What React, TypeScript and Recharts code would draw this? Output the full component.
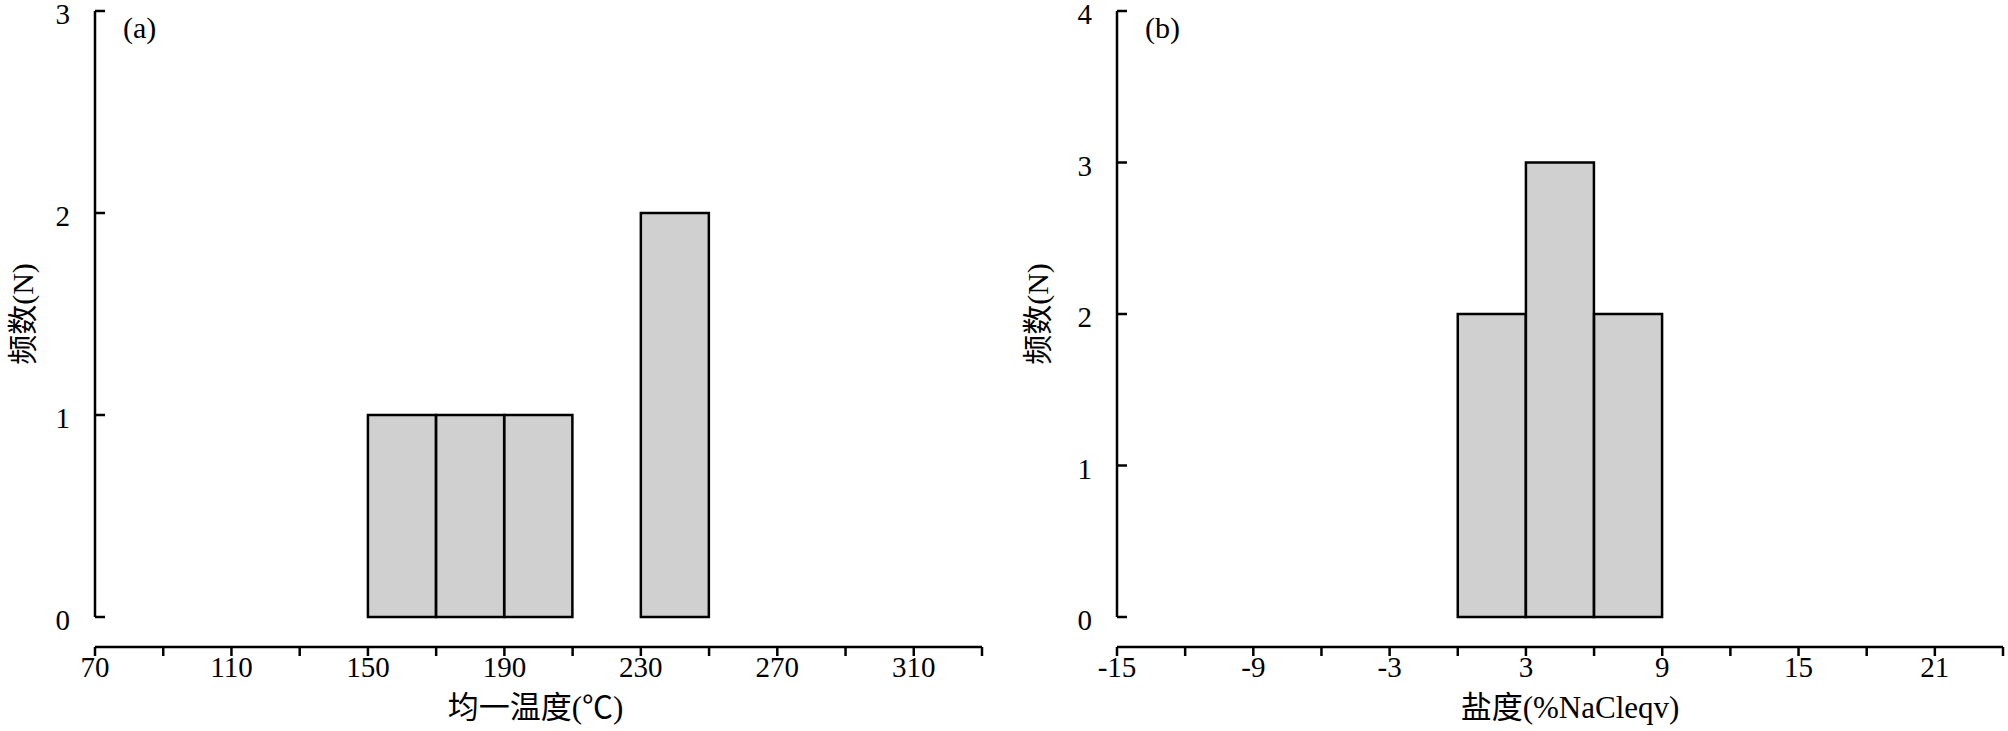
import React from 'react';
import { ComposedChart, Bar, XAxis, YAxis } from 'recharts';

// (a) homogenization temperature histogram
const tempEdges = [70, 90, 110, 130, 150, 170, 190, 210, 230, 250, 270, 290, 310, 330];
const tempLabels = [70, 110, 150, 190, 230, 270, 310];
const tempCounts = [0, 0, 0, 0, 1, 1, 1, 0, 2, 0, 0, 0, 0];
const tempYTicks = [0, 1, 2, 3];

// (b) salinity histogram
const salEdges = [-15, -12, -9, -6, -3, 0, 3, 6, 9, 12, 15, 18, 21, 24];
const salLabels = [-15, -9, -3, 3, 9, 15, 21];
const salCounts = [0, 0, 0, 0, 0, 2, 3, 2, 0, 0, 0, 0, 0];
const salYTicks = [0, 1, 2, 3, 4];

const FONT = '"Liberation Serif", "Times New Roman", "Noto Sans CJK SC", serif';
const AXIS = { stroke: '#000', strokeWidth: 2.5 };
const TICK_FS = 29;

function toBins(edges: number[], counts: number[]) {
  return counts.map((c, i) => ({ bin: `${edges[i]}~${edges[i + 1]}`, lo: edges[i], count: c }));
}

type PanelProps = {
  left: number;
  width: number;
  yAxisWidth: number;
  rightMargin: number;
  edges: number[];
  labels: number[];
  counts: number[];
  yTicks: number[];
  xTitle: string;
  xTitleDx: number;
  yTitle: string;
  tag: string;
  yTitleX: number;
  tagX: number;
};

function Panel(p: PanelProps) {
  const data = toBins(p.edges, p.counts);
  const lo = p.edges[0];
  const hi = p.edges[p.edges.length - 1];

  const yLabel = ({ viewBox }: any) => {
    const cy = viewBox.y + viewBox.height / 2;
    return (
      <g fontFamily={FONT} fill="#000">
        <text x={p.yTitleX} y={cy} transform={`rotate(-90, ${p.yTitleX}, ${cy})`}
          textAnchor="middle" dominantBaseline="central" fontSize={30}>{p.yTitle}</text>
        <text x={p.tagX} y={27} dominantBaseline="central" fontSize={30}>{p.tag}</text>
      </g>
    );
  };

  const xLabel = ({ viewBox }: any) => (
    <text x={viewBox.x + viewBox.width / 2 + p.xTitleDx} y={707} textAnchor="middle"
      dominantBaseline="central" fontSize={31} fontFamily={FONT} fill="#000">{p.xTitle}</text>
  );

  return (
    <div style={{ position: 'absolute', left: p.left, top: 0 }}>
      <ComposedChart width={p.width} height={731} data={data}
        margin={{ top: 11, right: p.rightMargin, left: 0, bottom: 0 }}
        barCategoryGap={0} barGap={0}>
        <XAxis xAxisId="bin" dataKey="bin" hide padding={{ left: 0, right: 0 }} />
        <XAxis xAxisId="val" dataKey="lo" type="number" domain={[lo, hi]} allowDataOverflow
          ticks={p.edges} interval={0} height={114} fontSize={TICK_FS} fontFamily={FONT}
          tickFormatter={(v: number) => (p.labels.includes(v) ? String(v) : '')}
          axisLine={AXIS} tickLine={AXIS} tickSize={9} tickMargin={0}
          tick={{ fill: '#000', fontSize: TICK_FS, fontFamily: FONT }}
          label={{ content: xLabel }} />
        <YAxis domain={[0, p.yTicks[p.yTicks.length - 1]]} ticks={p.yTicks} interval={0}
          width={p.yAxisWidth} allowDecimals={false} fontSize={TICK_FS} fontFamily={FONT}
          axisLine={AXIS} tickLine={AXIS} tickSize={-10} tickMargin={35}
          tick={{ fill: '#000', fontSize: TICK_FS, fontFamily: FONT, dy: 3 }}
          label={{ content: yLabel }} />
        <Bar xAxisId="bin" dataKey="count" fill="#d0d0d0" stroke="#000" strokeWidth={2.5}
          isAnimationActive={false} />
      </ComposedChart>
    </div>
  );
}

export default function App() {
  return (
    <div style={{ position: 'absolute', left: 0, top: 0, width: 2008, height: 731, background: '#fff' }}>
      <Panel left={0} width={1000} yAxisWidth={95} rightMargin={18}
        edges={tempEdges} labels={tempLabels} counts={tempCounts} yTicks={tempYTicks}
        xTitle="均一温度(℃)" xTitleDx={-3} yTitle="频数(N)" tag="(a)" yTitleX={22} tagX={123} />
      <Panel left={1010} width={998} yAxisWidth={107} rightMargin={5}
        edges={salEdges} labels={salLabels} counts={salCounts} yTicks={salYTicks}
        xTitle="盐度(%NaCleqv)" xTitleDx={10} yTitle="频数(N)" tag="(b)" yTitleX={27} tagX={135} />
    </div>
  );
}
